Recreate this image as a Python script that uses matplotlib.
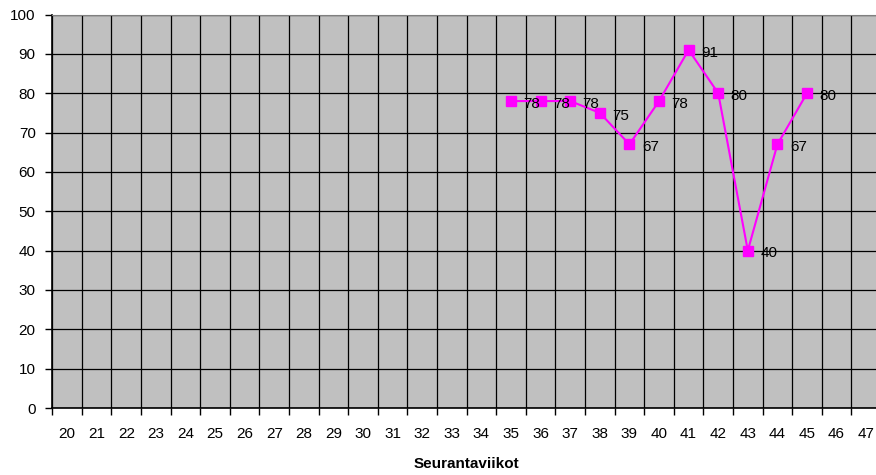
import matplotlib
matplotlib.use("Agg")
import matplotlib.pyplot as plt
import numpy as np

plt.rcParams['font.family'] = ['Liberation Sans', 'DejaVu Sans']

# weekly follow-up values
weeks = list(range(20, 48))
point_weeks = [35, 36, 37, 38, 39, 40, 41, 42, 43, 44, 45]
values = [78, 78, 78, 75, 67, 78, 91, 80, 40, 67, 80]

fig = plt.figure(figsize=(8.76, 4.75), dpi=100)
ax = fig.add_axes([52.3 / 876, 67 / 475, (881 - 52.3) / 876, 393.5 / 475])
ax.set_facecolor('#C0C0C0')

n = len(weeks)
ax.set_xlim(0, n)
ax.set_ylim(0, 100)

# category boundaries carry the ticks and vertical gridlines
ax.set_xticks(np.arange(0, n + 1))
ax.set_xticklabels([])
ax.set_xticks(np.arange(n) + 0.5, minor=True)
ax.set_xticklabels([str(w) for w in weeks], minor=True)
ax.tick_params(axis='x', which='minor', length=0, pad=14, labelsize=11)
ax.tick_params(axis='x', which='major', length=5, width=1, color='black')
ax.set_yticks(range(0, 101, 10))
ax.tick_params(axis='y', length=5, width=1, labelsize=11, pad=7)

ax.grid(True, which='major', color='black', linewidth=0.9)
ax.set_axisbelow(True)

ax.spines['right'].set_visible(False)
ax.spines['top'].set_color('#808080')
ax.spines['left'].set_linewidth(1.2)
ax.spines['bottom'].set_linewidth(1.2)

xs = [weeks.index(w) + 0.5 for w in point_weeks]
ax.plot(xs, values, color='#FF00FF', linewidth=1.5, marker='s',
        markersize=6.5, markerfacecolor='#FF00FF', markeredgecolor='#FF00FF',
        clip_on=False, zorder=3)
for x, v in zip(xs, values):
    ax.annotate(str(v), (x, v), xytext=(9, -2), textcoords='offset points',
                ha='left', va='center', fontsize=11, zorder=4)

ax.set_xlabel('Seurantaviikot', fontsize=11, fontweight='bold', labelpad=11)

fig.savefig('out.png', dpi=100)
